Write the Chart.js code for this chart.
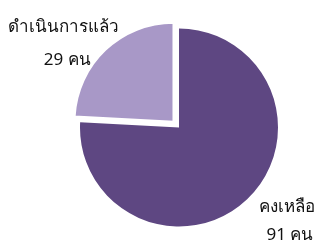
<!DOCTYPE html>
<html>
<head>
<meta charset="utf-8">
<script src="https://cdn.jsdelivr.net/npm/chart.js@4"></script>
<style>
  html, body { margin: 0; padding: 0; background: #fff; }
  #wrap { width: 322px; height: 245px; }
</style>
</head>
<body>
<div id="wrap"><canvas id="graphique"></canvas></div>
<script>
// Données
const categories = ["คงเหลือ", "ดำเนินการแล้ว"]
const valeurs = [91, 29]
const unite = "คน"
const couleurs = ["#5e4782", "#a898c7"]

// Étiquettes dessinées à côté de chaque part
const etiquettesPlugin = {
    id: "etiquettes",
    afterDraw(chart) {
        const ctx = chart.ctx
        const arcs = chart.getDatasetMeta(0).data
        const base = arcs[0]
        const cx = base.x
        const cy = base.y
        const r = base.outerRadius
        ctx.save()
        ctx.fillStyle = "#111111"
        ctx.textAlign = "center"
        ctx.textBaseline = "middle"
        ctx.font = "17px 'Noto Sans', 'DejaVu Sans', sans-serif"
        // คงเหลือ (bas droite)
        ctx.fillText(categories[0], cx + 1.09 * r, cy + 0.80 * r)
        ctx.fillText(valeurs[0] + " " + unite, cx + 1.12 * r, cy + 1.09 * r)
        // ดำเนินการแล้ว (haut gauche)
        ctx.fillText(categories[1], cx - 1.17 * r, cy - 1.01 * r)
        ctx.fillText(valeurs[1] + " " + unite, cx - 1.13 * r, cy - 0.68 * r)
        ctx.restore()
    }
}

const data = {
    labels: categories,
    datasets: [{
        data: valeurs,
        backgroundColor: couleurs,
        borderColor: "#ffffff",
        borderWidth: [0, 2],
        // Chart.js v4 translate la part de offset / 4
        offset: [0, 32],
    }]
}

const config = {
    type: "pie",
    data: data,
    options: {
        responsive: true,
        maintainAspectRatio: false,
        animation: false,
        radius: 99,
        layout: { padding: { left: 36, top: 10 } },
        plugins: {
            legend: { display: false },
            tooltip: { enabled: false }
        }
    },
    plugins: [etiquettesPlugin]
}

const graphique = new Chart(document.querySelector("#graphique"), config)
</script>
</body>
</html>
